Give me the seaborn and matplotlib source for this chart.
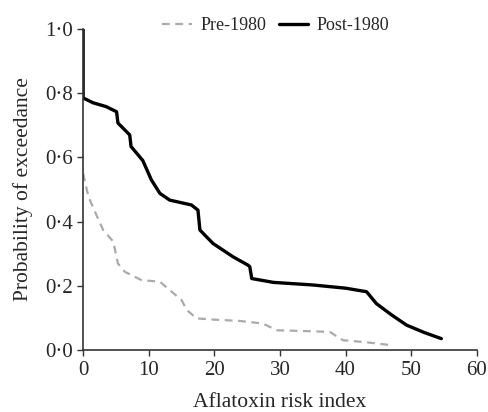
import pandas as pd
import matplotlib.pyplot as plt
import seaborn as sns

# Exceedance curves
post_x = [0, 0, 1.5, 3.5, 5.1, 5.3, 7.1, 7.3, 9.1, 10.4, 11.7, 13.2, 16.5, 17.5,
          17.8, 19.8, 22.9, 25.1, 25.4, 25.7, 29, 35, 40, 43.2, 44.7, 47, 49.3, 52, 54.6]
post_y = [1.0, 0.785, 0.77, 0.758, 0.742, 0.707, 0.67, 0.634, 0.59, 0.53, 0.488, 0.467,
          0.452, 0.436, 0.374, 0.332, 0.29, 0.265, 0.26, 0.223, 0.211, 0.203, 0.193,
          0.182, 0.145, 0.11, 0.078, 0.055, 0.036]

pre_x = [0, 0.8, 1.8, 3.05, 4.6, 5.3, 6.35, 8.9, 11.7, 13.5, 15.0, 15.8, 17.3, 20,
         23.9, 27.4, 29.5, 33, 37.6, 39.6, 43, 46.8]
pre_y = [0.55, 0.478, 0.431, 0.374, 0.338, 0.27, 0.244, 0.218, 0.213, 0.182, 0.156,
         0.125, 0.099, 0.095, 0.091, 0.083, 0.062, 0.06, 0.057, 0.031, 0.025, 0.016]

x_ticks = [0, 10, 20, 30, 40, 50, 60]
y_ticks = [0.0, 0.2, 0.4, 0.6, 0.8, 1.0]
y_labels = ['0·0', '0·2', '0·4', '0·6', '0·8', '1·0']

df = pd.concat([
    pd.DataFrame({'x': pre_x, 'y': pre_y, 'period': 'Pre-1980'}),
    pd.DataFrame({'x': post_x, 'y': post_y, 'period': 'Post-1980'}),
])

sns.set_style('ticks')
plt.rcParams['font.family'] = ['Liberation Serif', 'DejaVu Serif']

fig = plt.figure(figsize=(4.89, 4.12), dpi=100)
ax = fig.add_axes([0.170, 0.150, 0.805, 0.780])

sns.lineplot(data=df, x='x', y='y', hue='period', style='period',
             palette={'Pre-1980': '#aaaaaa', 'Post-1980': 'black'},
             dashes={'Pre-1980': (3.5, 2.5), 'Post-1980': ''},
             size='period', sizes={'Pre-1980': 1.6, 'Post-1980': 2.4},
             estimator=None, sort=False, ax=ax)

ax.set_xlim(0, 60)
ax.set_ylim(0, 1.0)
ax.set_xticks(x_ticks)
ax.set_yticks(y_ticks)
ax.set_yticklabels(y_labels)
ax.tick_params(labelsize=15, length=4, width=1, color='#333333', pad=3)
ax.tick_params(axis='x', pad=4)
ax.set_xlabel('Aflatoxin risk index', fontsize=15.5, labelpad=9)
ax.set_ylabel('Probability of exceedance', fontsize=15.5, labelpad=9)
for s in ['left', 'bottom']:
    ax.spines[s].set_linewidth(1.2)
    ax.spines[s].set_color('#333333')
sns.despine(ax=ax)

handles, labels = ax.get_legend_handles_labels()
ax.legend(handles[:2], labels[:2], loc='center', bbox_to_anchor=(0.489, 1.01),
          ncol=2, frameon=False, fontsize=13, handlelength=1.65,
          columnspacing=0.7, handletextpad=0.45, borderaxespad=0)

fig.savefig('out.png', dpi=100)
